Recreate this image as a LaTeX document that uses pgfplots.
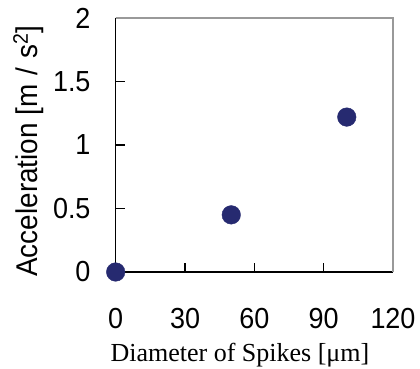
\documentclass[border=0pt]{standalone}
\usepackage{fontspec}
\setmainfont{Liberation Serif}
\setsansfont{Liberation Sans}
\newfontfamily\gothic{Liberation Sans}[FakeStretch=0.93]
\usepackage{pgfplots}
\pgfplotsset{compat=1.18}
\definecolor{navy}{RGB}{38,42,112}
\begin{document}
\begin{tikzpicture}
\begin{axis}[
  scale only axis,
  width=277.3pt, height=254pt,
  xmin=0, xmax=120, ymin=0, ymax=2,
  axis x line*=bottom, axis y line*=left,
  axis line style={line width=1.4pt, black},
  tick align=inside,
  major tick length=9pt,
  tick style={line width=1.2pt, black},
  xtick={0,30,60,90,120},
  ytick={0,0.5,1,1.5,2},
  /pgf/number format/assume math mode=true,
  ticklabel style={font=\gothic\fontsize{29}{29}\selectfont, inner sep=0pt},
  xticklabel style={anchor=north, yshift=-36pt},
  yticklabel style={anchor=east, xshift=-25pt},
  yticklabel={\pgfmathprintnumber[fixed,precision=1]{\tick}},
  xlabel={Diameter of Spikes [μm]},
  xlabel style={font=\rmfamily\fontsize{26}{26}\selectfont, at={(axis description cs:0.448,-0.354)}, anchor=base, inner sep=0pt},
  ylabel={Acceleration [m\hspace{0.3em}/\hspace{0.3em}s\textsuperscript{2}]},
  ylabel style={font=\gothic\fontsize{30}{30}\selectfont, at={(axis description cs:-0.2838,0.476)}, anchor=base, inner sep=0pt},
  clip=false,
]
\addplot[only marks, mark=*, mark size=9.3pt, mark options={fill=navy, draw=navy}]
  coordinates {(0,0) (50,0.45) (100,1.22)};
\draw[line width=1.2pt, gray!80] (rel axis cs:0,1) -- (rel axis cs:1,1) -- (rel axis cs:1,0);
\end{axis}
\pgfresetboundingbox
\path[use as bounding box] (-115.7pt,-97pt) rectangle (304.3pt,272pt);
\end{tikzpicture}
\end{document}
